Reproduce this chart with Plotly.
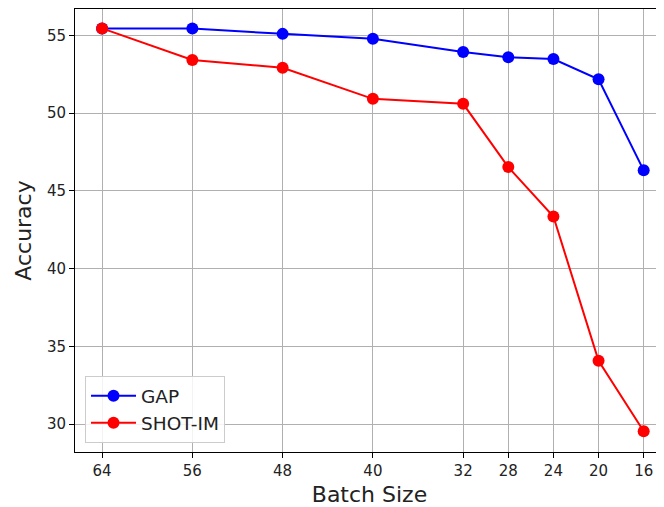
import plotly.graph_objects as go

batch_sizes = [64, 56, 48, 40, 32, 28, 24, 20, 16]
gap_acc = [55.45, 55.45, 55.1, 54.78, 53.93, 53.6, 53.48, 52.18, 46.32]
shot_im_acc = [55.45, 53.42, 52.92, 50.92, 50.6, 46.53, 43.35, 34.07, 29.53]
x_ticks = [64, 56, 48, 40, 32, 28, 24, 20, 16]
y_ticks = [30, 35, 40, 45, 50, 55]

fig = go.Figure()
fig.add_trace(go.Scatter(x=batch_sizes, y=gap_acc, mode="lines+markers", name="GAP",
                         line=dict(color="#0000ff", width=2), marker=dict(color="#0000ff", size=12)))
fig.add_trace(go.Scatter(x=batch_sizes, y=shot_im_acc, mode="lines+markers", name="SHOT-IM",
                         line=dict(color="#ff0000", width=2), marker=dict(color="#ff0000", size=12)))

font_family = "DejaVu Sans"
fig.update_layout(
    width=656, height=499,
    margin=dict(l=67, r=0, t=1, b=55),
    plot_bgcolor="white", paper_bgcolor="white",
    font=dict(family=font_family, color="#222222"),
    showlegend=True,
    legend=dict(x=0.017, y=0.02, xanchor="left", yanchor="bottom",
                bgcolor="rgba(255,255,255,0.85)", bordercolor="#cccccc", borderwidth=1,
                font=dict(size=18.5, color="#222222"), tracegroupgap=0, itemwidth=45),
    xaxis=dict(range=[66.4, 14.2], tickmode="array", tickvals=x_ticks,
               ticktext=[str(v) for v in x_ticks],
               showgrid=True, gridcolor="#b0b0b0", gridwidth=1,
               showline=True, linecolor="black", linewidth=1, mirror=True,
               ticks="outside", ticklen=5, tickcolor="black",
               tickfont=dict(size=15, color="#222222"),
               title=dict(text="Batch Size", font=dict(size=22, color="#222222"), standoff=9),
               zeroline=False),
    yaxis=dict(range=[28.2, 56.7], tickmode="array", tickvals=y_ticks,
               showgrid=True, gridcolor="#b0b0b0", gridwidth=1,
               showline=True, linecolor="black", linewidth=1,
               ticks="outside", ticklen=5, tickcolor="black",
               tickfont=dict(size=15, color="#222222"),
               title=dict(text="Accuracy", font=dict(size=22, color="#222222"), standoff=9),
               zeroline=False),
)

fig.write_html("out.html")
